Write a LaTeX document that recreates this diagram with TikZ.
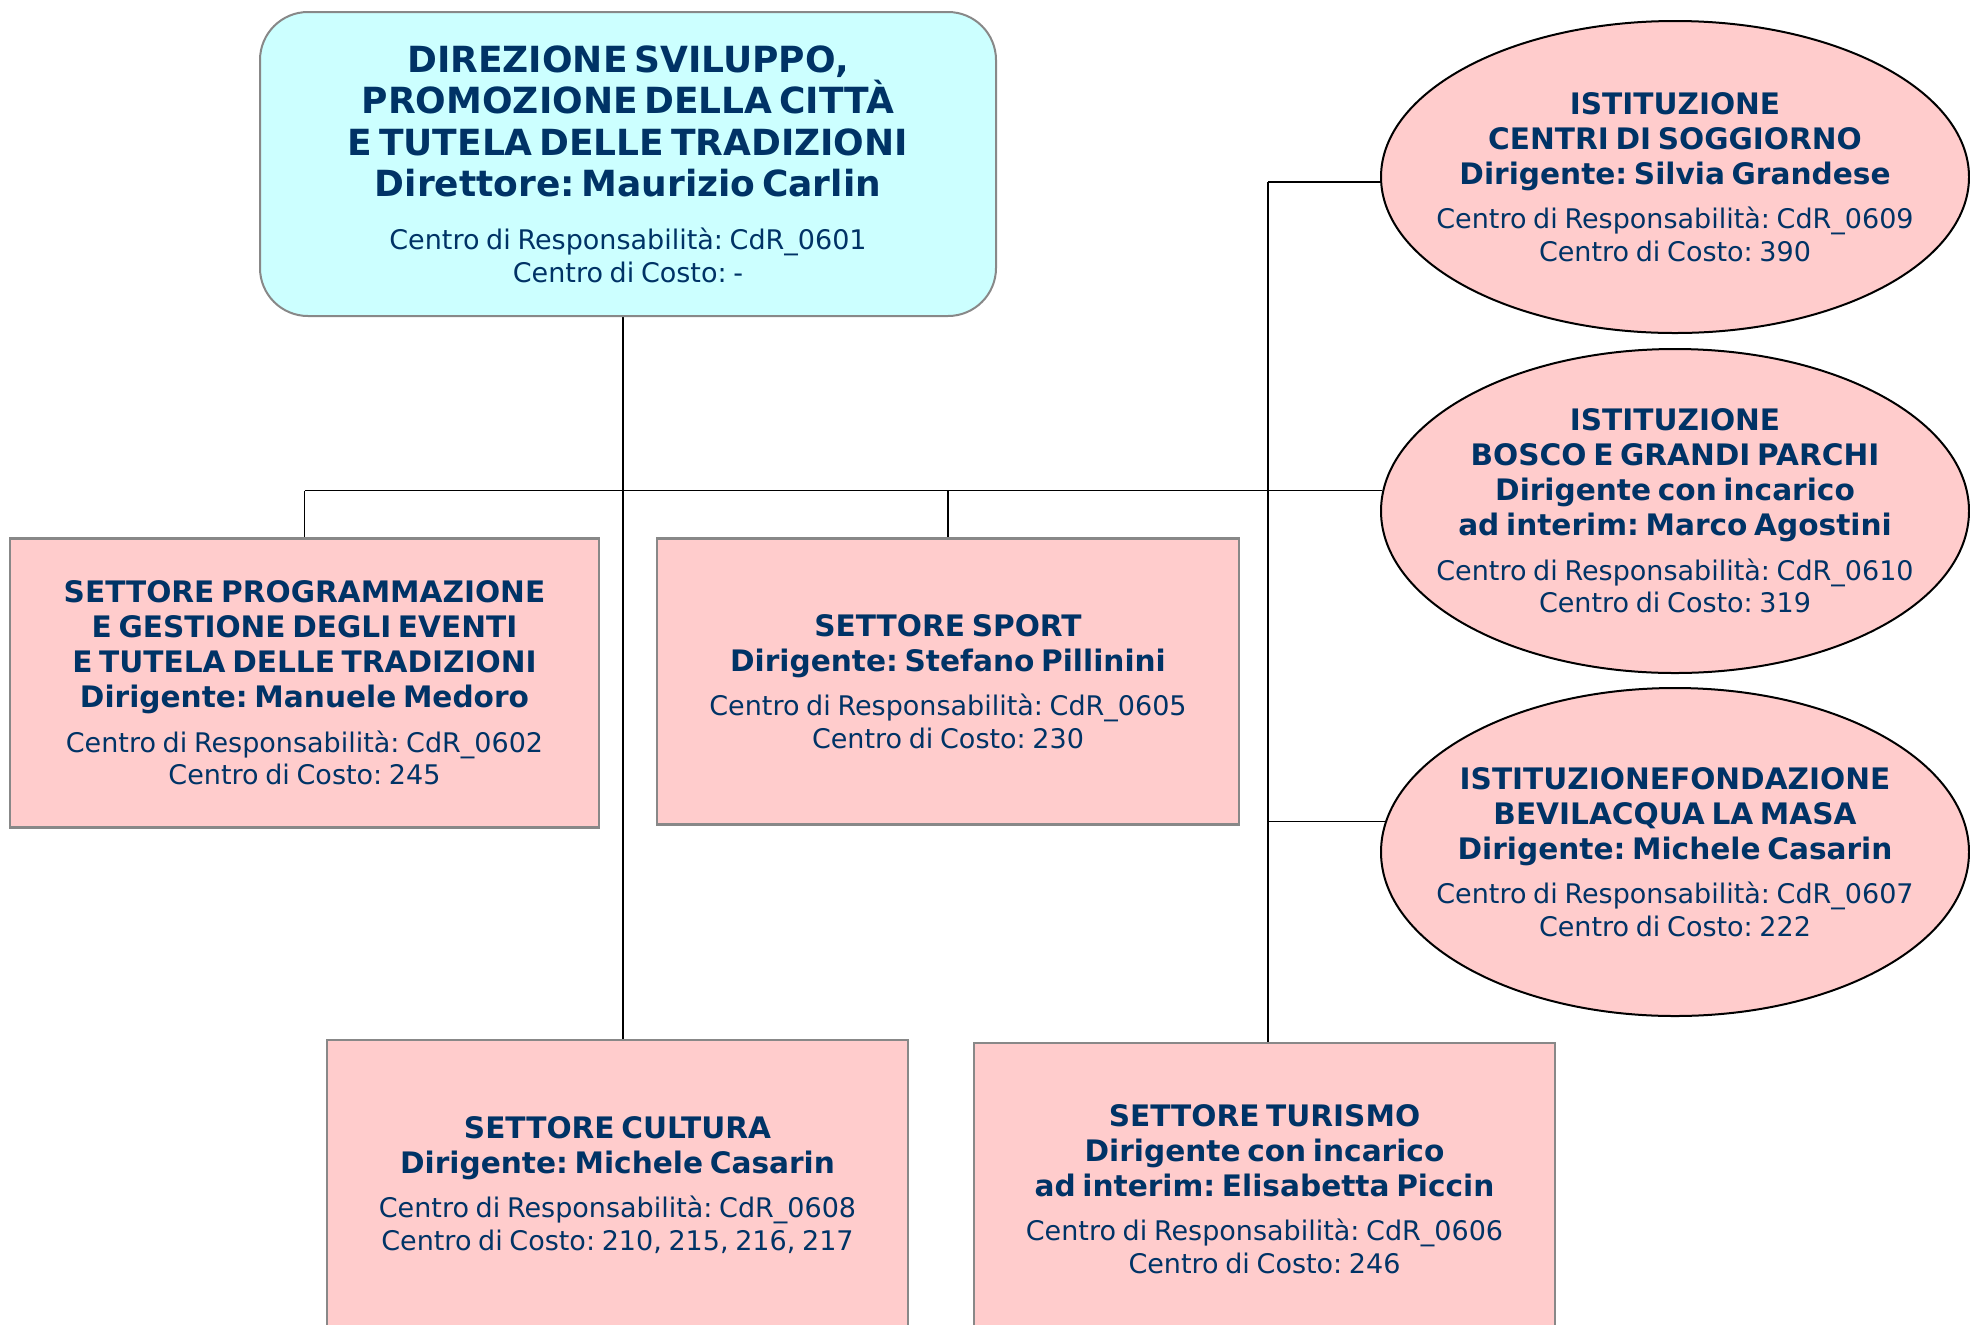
\documentclass[tikz,border=0pt]{standalone}
\usepackage{fontspec}
\setmainfont{DejaVu Sans}
\frenchspacing
\usetikzlibrary{shapes.geometric,backgrounds}
\definecolor{navy}{RGB}{0,51,102}
\definecolor{pinkfill}{RGB}{255,204,204}
\definecolor{cyanfill}{RGB}{204,255,255}
\definecolor{boxgrey}{RGB}{136,136,136}
\newcommand{\fDir}{\bfseries\fontsize{18}{20.75}\selectfont}
\newcommand{\fHead}{\bfseries\fontsize{14.8}{17.5}\selectfont}
\newcommand{\fBody}{\mdseries\fontsize{13.5}{16.3}\selectfont}
\begin{document}
\begin{tikzpicture}[x=0.5pt,y=-0.5pt,
  every node/.style={text=navy, inner sep=0pt, align=center},
  dirbox/.style={draw=boxgrey, line width=1pt, fill=cyanfill, rounded corners=24pt,
    minimum width=368pt, minimum height=152pt, text width=350pt},
  setbox/.style={draw=boxgrey, line width=1.2pt, fill=pinkfill, rectangle, text width=285pt},
  istell/.style={ellipse, draw=black, line width=1pt, fill=pinkfill, minimum width=294pt},
  txt/.style={text width=290pt},
  conn/.style={draw=black, line width=0.75pt}]
\useasboundingbox (0,0) rectangle (1970,1324);

\node[dirbox] (dir) at (628,164) {{\fDir DIREZIONE SVILUPPO,\\PROMOZIONE DELLA CITTÀ\\E TUTELA DELLE TRADIZIONI\\Direttore: Maurizio Carlin\par}\vspace{10pt}{\fBody Centro di Responsabilità: CdR\_0601\\Centro di Costo: -\par}};

\node[setbox, minimum width=294.5pt, minimum height=144.5pt] (sprog) at (304.5,683) {{\fHead SETTORE PROGRAMMAZIONE\\E GESTIONE DEGLI EVENTI\\E TUTELA DELLE TRADIZIONI\\Dirigente: Manuele Medoro\par}\vspace{6pt}{\fBody Centro di Responsabilità: CdR\_0602\\Centro di Costo: 245\par}};

\node[setbox, minimum width=291pt, minimum height=143pt] (sport) at (948,681.5) {{\fHead SETTORE SPORT\\Dirigente: Stefano Pillinini\par}\vspace{6pt}{\fBody Centro di Responsabilità: CdR\_0605\\Centro di Costo: 230\par}};

\node[setbox, minimum width=290.5pt, minimum height=145pt] (cult) at (617.5,1185) {{\fHead SETTORE CULTURA\\Dirigente: Michele Casarin\par}\vspace{6pt}{\fBody Centro di Responsabilità: CdR\_0608\\Centro di Costo: 210, 215, 216, 217\par}};

\node[setbox, minimum width=290.5pt, minimum height=146pt] (tur) at (1264.5,1189) {{\fHead SETTORE TURISMO\\Dirigente con incarico\\ad interim: Elisabetta Piccin\par}\vspace{6pt}{\fBody Centro di Responsabilità: CdR\_0606\\Centro di Costo: 246\par}};

\node[istell, minimum height=156pt] (ist1) at (1675,177) {};
\node[txt] (ist1t) at (ist1.center) {{\fHead ISTITUZIONE\\CENTRI DI SOGGIORNO\\Dirigente: Silvia Grandese\par}\vspace{6pt}{\fBody Centro di Responsabilità: CdR\_0609\\Centro di Costo: 390\par}};

\node[istell, minimum height=162pt] (ist2) at (1675,511) {};
\node[txt] (ist2t) at (ist2.center) {{\fHead ISTITUZIONE\\BOSCO E GRANDI PARCHI\\Dirigente con incarico\\ad interim: Marco Agostini\par}\vspace{6pt}{\fBody Centro di Responsabilità: CdR\_0610\\Centro di Costo: 319\par}};

\node[istell, minimum height=164pt] (ist3) at (1675,852) {};
\node[txt] (ist3t) at (ist3.center) {{\fHead ISTITUZIONEFONDAZIONE\\BEVILACQUA LA MASA\\Dirigente: Michele Casarin\par}\vspace{6pt}{\fBody Centro di Responsabilità: CdR\_0607\\Centro di Costo: 222\par}};

\coordinate (ltrunk) at (623,489);
\coordinate (rtrunk) at (1268,489);

\begin{pgfonlayer}{background}
\draw[conn] (ltrunk |- dir.south) -- (ltrunk |- cult.north);
\draw[conn] (sprog.north |- ist2.176) -- (ist2.176);
\draw[conn] (sprog.north) -- (sprog.north |- ist2.176);
\draw[conn] (sport.north) -- (sport.north |- ist2.176);
\draw[conn] (rtrunk |- ist1.181) -- (rtrunk |- tur.north);
\draw[conn] (rtrunk |- ist1.181) -- (ist1.181);
\draw[conn] (rtrunk |- ist3.174) -- (ist3.174);
\end{pgfonlayer}
\end{tikzpicture}
\end{document}
